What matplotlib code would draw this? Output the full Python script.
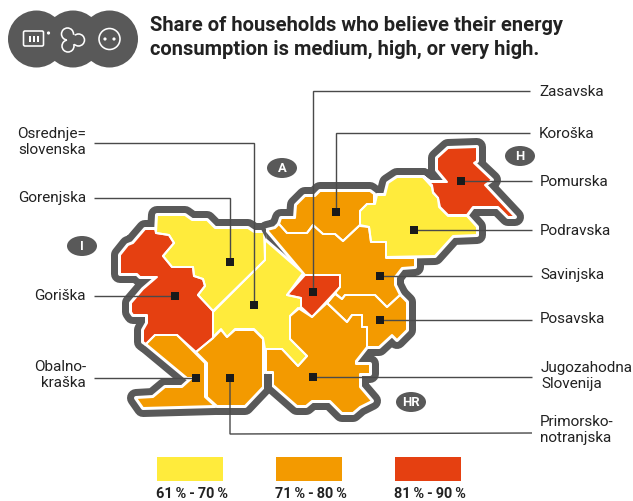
import matplotlib
matplotlib.use("Agg")
import matplotlib.pyplot as plt
from matplotlib.patches import Polygon, Circle, Rectangle, FancyBboxPatch, Ellipse

plt.rcParams['font.family'] = ['Roboto', 'DejaVu Sans']

YELLOW = '#FFEB3C'
ORANGE = '#F39A00'
RED = '#E54011'
GRAY = '#595959'
INK = '#222222'
LINE = '#4A4A4A'

title = "Share of households who believe their energy\nconsumption is medium, high, or very high."
legend_labels = ["61\u2009%\u2009-\u200970\u2009%", "71\u2009%\u2009-\u200980\u2009%", "81\u2009%\u2009-\u200990\u2009%"]
legend_colors = [YELLOW, ORANGE, RED]
legend_x = [157, 276, 395]

gorenjska = [(157,215),(185,215),(192,220),(207,220),(215,228),(248,228),(254,232),(264,232),(265,260),(213,311),(198,295),(205,286),(203,279),(194,276),(193,267),(172,267),(163,256),(174,243),(169,235),(156,233)]
goriska = [(145,229),(155,229),(156,233),(169,235),(174,243),(163,256),(172,267),(193,267),(194,276),(203,279),(205,286),(198,295),(213,311),(213,338),(196,352),(177,335),(155,335),(146,344),(143,342),(143,330),(147,323),(147,315),(133,315),(131,312),(131,303),(143,289),(157,277),(140,277),(137,274),(120,274),(120,255),(128,245),(133,243)]
obalno = [(155,335),(177,335),(205,363),(205,397),(215,406),(143,408),(136,398),(153,397),(165,387),(182,387),(192,378),(187,378),(146,344)]
primorsko = [(196,352),(213,338),(221,330),(227,337),(235,330),(254,330),(263,339),(263,387),(245,406),(217,406),(207,397),(207,363)]
osrednje = [(265,240),(303,273),(287,295),(301,298),(301,307),(290,316),(290,339),(307,356),(298,366),(282,349),(265,349),(263,338),(254,329),(235,329),(227,337),(221,329),(213,337),(213,312),(265,260)]
zasavska = [(305,275),(340,275),(340,287),(312,317),(301,307),(301,298),(287,295)]
savinjska = [(267,230),(275,228),(279,224),(287,233),(307,233),(313,225),(323,234),(335,234),(343,241),(360,225),(369,227),(371,242),(386,242),(386,258),(415,258),(415,267),(402,268),(395,277),(395,285),(400,295),(387,307),(375,295),(345,295),(342,299),(335,293),(327,303),(340,287),(340,275),(305,275)]
koroska = [(279,224),(281,218),(295,218),(296,205),(305,196),(315,196),(320,191),(370,191),(374,194),(374,204),(367,204),(360,211),(360,225),(343,241),(335,234),(323,234),(313,225),(307,233),(287,233)]
podravska = [(360,211),(367,204),(375,204),(377,195),(385,195),(388,183),(397,177),(423,177),(432,187),(433,193),(438,198),(439,207),(448,216),(467,216),(477,227),(477,235),(453,236),(435,256),(386,257),(386,242),(371,242),(369,227),(360,226)]
pomurska = [(448,148),(477,147),(477,161),(474,163),(492,180),(485,185),(515,217),(508,217),(498,207),(473,207),(467,215),(448,215),(440,207),(438,198),(433,192),(432,185),(423,177),(430,182),(447,182),(437,170),(437,158)]
posavska = [(327,303),(335,294),(342,299),(345,295),(375,295),(387,307),(400,295),(407,302),(407,330),(397,340),(392,335),(379,347),(367,347),(367,327),(362,327),(362,315),(352,315),(347,322)]
jugozahodna = [(312,317),(327,303),(347,322),(352,315),(362,315),(362,327),(367,327),(367,347),(356,361),(356,364),(370,364),(370,374),(360,374),(360,387),(372,401),(360,407),(353,413),(342,413),(330,401),(312,401),(306,406),(297,406),(273,385),(273,372),(266,372),(266,349),(282,349),(298,366),(307,356),(290,339),(290,316),(298,308)]

regions = [
    (gorenjska, YELLOW), (goriska, RED), (obalno, ORANGE), (primorsko, ORANGE),
    (osrednje, YELLOW), (savinjska, ORANGE), (zasavska, RED), (koroska, ORANGE),
    (podravska, YELLOW), (pomurska, RED), (posavska, ORANGE), (jugozahodna, ORANGE),
]
border_notches = [
    [(260,227),(266,229),(266,239)],
    [(264,374),(272,374),(272,387),(264,392)],
]

# text, text x, text y, ha, leader path
callouts = [
    ("Zasavska", 539, 92, 'left', [(530,91),(313,91),(313,292)]),
    ("Koroška", 539, 134, 'left', [(530,133),(336,133),(336,212)]),
    ("Pomurska", 540, 182, 'left', [(532,181),(461,181)]),
    ("Podravska", 540, 231, 'left', [(532,230),(414,230)]),
    ("Savinjska", 540, 275, 'left', [(532,276),(380,276)]),
    ("Posavska", 540, 319, 'left', [(532,320),(380,320)]),
    ("Jugozahodna\nSlovenija", 541, 376, 'left', [(532,377),(313,377)]),
    ("Primorsko-\nnotranjska", 540, 430, 'left', [(532,433),(230,434),(230,378)]),
    ("Osrednje=\nslovenska", 86, 142, 'right', [(94,143),(254,143),(254,305)]),
    ("Gorenjska", 86, 198, 'right', [(94,198),(230,198),(230,262)]),
    ("Goriška", 86, 296, 'right', [(94,296),(175,296)]),
    ("Obalno-\nkraška", 86, 375, 'right', [(94,378),(196,378)]),
]
badges = [("A", 282, 168, 30), ("H", 520, 156, 30), ("I", 82, 246, 30), ("HR", 411, 402, 30)]

dpi = 100
px = 72 / dpi
fig = plt.figure(figsize=(6.33, 5.01), dpi=dpi, facecolor='white')
ax = fig.add_axes([0, 0, 1, 1])
ax.set_xlim(0, 633)
ax.set_ylim(501, 0)
ax.axis('off')

# outer ring
for pts, _ in regions:
    ax.add_patch(Polygon(pts, closed=True, fc=GRAY, ec=GRAY, lw=18*px, joinstyle='round', zorder=1))
for pts, _ in regions:
    ax.add_patch(Polygon(pts, closed=True, fc='white', ec='white', lw=4*px, joinstyle='round', zorder=2))
for pts, color in regions:
    ax.add_patch(Polygon(pts, closed=True, fc=color, ec='none', zorder=3))
for pts, _ in regions:
    ax.add_patch(Polygon(pts, closed=True, fc='none', ec='white', lw=2*px, joinstyle='round', zorder=4))
for pts in border_notches:
    ax.add_patch(Polygon(pts, closed=True, fc=GRAY, ec='none', zorder=4.5))

# callouts
for label, tx, ty, ha, path in callouts:
    xs, ys = zip(*path)
    ax.plot(xs, ys, color=LINE, lw=1.4*px, zorder=5, solid_joinstyle='miter', solid_capstyle='butt')
    ax.text(tx, ty, label, ha=ha, va='center', fontsize=15.2*px, color=INK, linespacing=1.1, zorder=7)
    mx, my = path[-1]
    ax.add_patch(Rectangle((mx-4, my-4), 8, 8, fc='#1A1A1A', ec='none', zorder=6))

# country badges
for text, cx, cy, w in badges:
    ax.add_patch(Ellipse((cx, cy), w, 20, fc=GRAY, ec='none', zorder=5))
    ax.text(cx, cy+0.5, text, ha='center', va='center', fontsize=13*px, fontweight='bold', color='white', zorder=6)

# title icon
for cx in (36.5, 73, 109.5):
    ax.add_patch(Circle((cx, 39), 28.5, fc=GRAY, ec='none', zorder=1))
ax.add_patch(FancyBboxPatch((23.5, 31), 20, 15, boxstyle="round,pad=0,rounding_size=1.5", fc='none', ec='white', lw=1.6*px, zorder=3))
for bx in (29, 33, 37):
    ax.add_patch(Rectangle((bx, 36), 2.2, 6, fc='white', ec='none', zorder=3))
ax.add_patch(Circle((48.5, 33), 1.6, fc='white', ec='none', zorder=3))
for cx, cy in ((67.5, 34), (78.5, 40), (68, 46)):
    ax.add_patch(Circle((cx, cy), 6.8, fc='white', ec='none', zorder=2))
for cx, cy in ((67.5, 34), (78.5, 40), (68, 46)):
    ax.add_patch(Circle((cx, cy), 5.2, fc=GRAY, ec='none', zorder=3))
ax.add_patch(Circle((72, 39.5), 5.0, fc=GRAY, ec='none', zorder=3))
ax.add_patch(Circle((109.5, 39), 10.5, fc='none', ec='white', lw=1.6*px, zorder=3))
for cx in (105, 114):
    ax.add_patch(Circle((cx, 39), 1.6, fc='white', ec='none', zorder=3))

ax.text(149.5, 37.5, title, ha='left', va='center', fontsize=20.1*px, fontweight='bold', color=INK, linespacing=1.26)

# legend
for x, c, lab in zip(legend_x, legend_colors, legend_labels):
    ax.add_patch(Rectangle((x, 457), 66, 24, fc=c, ec='none'))
    ax.text(x+34.5, 494, lab, ha='center', va='center', fontsize=14.5*px, fontweight='bold', color=INK)

fig.savefig('out.png', dpi=dpi, facecolor='white')
